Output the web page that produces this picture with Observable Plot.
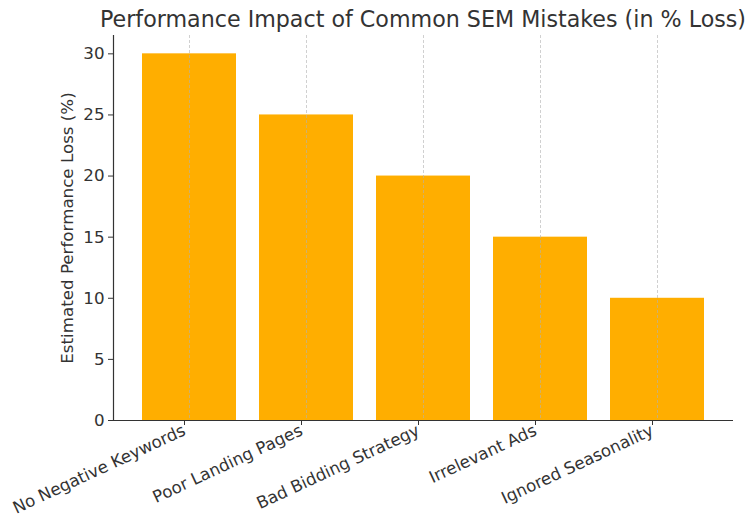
<!DOCTYPE html>
<html>
<head>
<meta charset="utf-8">
<script src="https://cdn.jsdelivr.net/npm/d3@7"></script>
<script src="https://cdn.jsdelivr.net/npm/@observablehq/plot@0.6"></script>
<style>
  html, body { margin: 0; padding: 0; background: #fff; }
  #wrap { width: 756px; font-family: "DejaVu Sans", sans-serif; }
  #title { position: relative; height: 35px; }
  #title span {
    position: absolute; left: 423px; top: 6px; transform: translateX(-50%);
    font-size: 22.2px; color: #333; line-height: normal; white-space: nowrap;
  }
  svg { display: block; }
</style>
</head>
<body>
<div id="wrap">
  <div id="title"><span>Performance Impact of Common SEM Mistakes (in % Loss)</span></div>
  <div id="chart"></div>
</div>
<script>
const categories = ["No Negative Keywords", "Poor Landing Pages", "Bad Bidding Strategy", "Irrelevant Ads", "Ignored Seasonality"];
const losses = [30, 25, 20, 15, 10];
const yTicks = [0, 5, 10, 15, 20, 25, 30];
const yLabel = "Estimated Performance Loss (%)";

const data = categories.map((c, i) => ({category: c, loss: losses[i]}));

const chart = Plot.plot({
  width: 756,
  height: 495,
  marginTop: 0,
  marginLeft: 113,
  marginRight: 23,
  marginBottom: 110,
  style: {fontFamily: "DejaVu Sans, sans-serif", fontSize: "16.7px", color: "#333", background: "#fff"},
  x: {domain: categories, paddingInner: 0.2, paddingOuter: 0.24, label: null},
  y: {domain: [0, 31.5], label: yLabel},
  marks: [
    Plot.barY(data, {x: "category", y: "loss", fill: "#FFAE00"}),
    Plot.gridX(categories, {stroke: "#b0b0b0", strokeOpacity: 0.6, strokeWidth: 1, strokeDasharray: "3,2"}),
    Plot.ruleY([0], {stroke: "#333", strokeWidth: 1.2}),
    Plot.frame({anchor: "left", stroke: "#333", strokeWidth: 1.2}),
    Plot.axisY(yTicks, {tickSize: 5, tickPadding: 4, stroke: "#333", fill: "#333", fontSize: "16.7px",
      label: yLabel, labelAnchor: "center", labelArrow: "none", labelOffset: 52}),
    Plot.axisX({tickSize: 5, tickPadding: 4, tickRotate: -25, dx: -5, stroke: "#333", fill: "#333", fontSize: "16.7px", label: null})
  ]
});
document.getElementById("chart").appendChild(chart);
</script>
</body>
</html>
